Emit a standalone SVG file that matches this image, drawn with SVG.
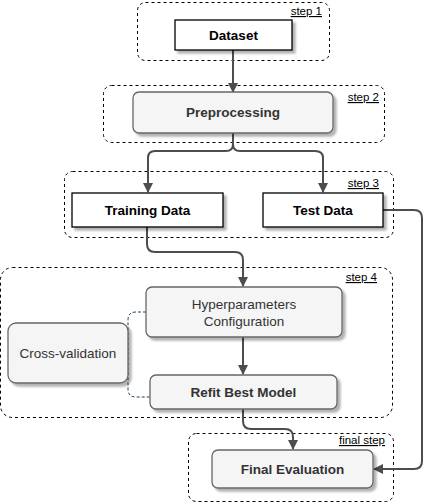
<svg xmlns="http://www.w3.org/2000/svg" width="433" height="503" viewBox="0 0 433 503">
<defs>
<filter id="sh" x="-10%" y="-10%" width="130%" height="140%">
<feDropShadow dx="3" dy="3" stdDeviation="1" flood-color="#000" flood-opacity="0.3"/>
</filter>
<marker id="ah" viewBox="0 0 10 10" refX="9" refY="5" markerWidth="5" markerHeight="5" markerUnits="strokeWidth" orient="auto">
<path d="M0,0 L10,5 L0,10 z" fill="#4d4d4d"/>
</marker>
</defs>
<style>
.grp{fill:none;stroke:#000;stroke-width:1;stroke-dasharray:3 3}
.lbl{font-family:"Liberation Sans",Arial,sans-serif;font-size:11.5px;fill:#000;text-decoration:underline;text-anchor:end}
.wbox{fill:#fff;stroke:#000;stroke-width:1.3;filter:url(#sh)}
.gbox{fill:#f5f5f5;stroke:#666;stroke-width:1.3;filter:url(#sh)}
.t{font-family:"Liberation Sans",Arial,sans-serif;font-size:13.5px;text-anchor:middle;dominant-baseline:central}
.b{font-weight:bold}
.dk{fill:#000}
.gr{fill:#333}
.edge{fill:none;stroke:#4d4d4d;stroke-width:2;marker-end:url(#ah)}
.dash{fill:none;stroke:#23445d;stroke-width:1;stroke-dasharray:3 2}
</style>
<g id="groups">
<rect class="grp" x="137.500" y="2.500" width="192" height="58" rx="8"/>
<text class="lbl" x="322" y="15">step 1</text>
<rect class="grp" x="103.500" y="85.500" width="281" height="57" rx="8"/>
<text class="lbl" x="379" y="101">step 2</text>
<rect class="grp" x="64.500" y="171.500" width="329" height="66" rx="8"/>
<text class="lbl" x="379" y="187">step 3</text>
<rect class="grp" x="0.500" y="267.500" width="392" height="150" rx="12"/>
<text class="lbl" x="377" y="281">step 4</text>
<rect class="grp" x="188.500" y="433.500" width="205" height="68" rx="8"/>
<text class="lbl" x="385" y="444">final step</text>
</g>
<g id="connectors">
<path class="edge" d="M233,50 V92"/>
<path class="edge" d="M233,133 V144 Q233,151 226,151 H155 Q148,151 148,158 V192"/>
<path class="edge" d="M233,133 V144 Q233,151 240,151 H315 Q323,151 323,158 V192"/>
<path class="edge" d="M147,227 V244 Q147,252 155,252 H235 Q243,252 243,260 V286"/>
<path class="edge" d="M243,337 V374"/>
<path class="edge" d="M243,409 V421 Q243,429 251,429 H285 Q293,429 293,437 V449"/>
<path class="edge" d="M383,210 H414 Q422,210 422,218 V461 Q422,469 414,469 H374"/>
<path class="dash" d="M146,312 H136 Q128,312 128,320 V389 Q128,397 136,397 H150"/>
</g>
<g id="dataset">
<rect class="wbox" x="175" y="20" width="117" height="30"/>
<text class="t b dk" x="233.500" y="35">Dataset</text>
</g>
<g id="preprocessing">
<rect class="gbox" x="133" y="92" width="200" height="41" rx="6"/>
<text class="t b gr" x="233" y="112.500">Preprocessing</text>
</g>
<g id="training">
<rect class="wbox" x="72" y="193" width="151" height="34"/>
<text class="t b dk" x="147.500" y="210">Training Data</text>
</g>
<g id="test">
<rect class="wbox" x="263" y="193" width="120" height="34"/>
<text class="t b dk" x="323" y="210">Test Data</text>
</g>
<g id="hyper">
<rect class="gbox" x="146" y="287" width="196" height="50" rx="6"/>
<text class="t gr" x="244" y="304">Hyperparameters</text>
<text class="t gr" x="244" y="321">Configuration</text>
</g>
<g id="refit">
<rect class="gbox" x="150" y="375" width="187" height="34" rx="6"/>
<text class="t b gr" x="243.500" y="392">Refit Best Model</text>
</g>
<g id="crossval">
<rect class="gbox" x="8" y="323" width="120" height="60" rx="8"/>
<text class="t gr" x="68" y="353">Cross-validation</text>
</g>
<g id="final">
<rect class="gbox" x="212" y="450" width="161" height="38" rx="6"/>
<text class="t b gr" x="292.500" y="469">Final Evaluation</text>
</g>
</svg>
